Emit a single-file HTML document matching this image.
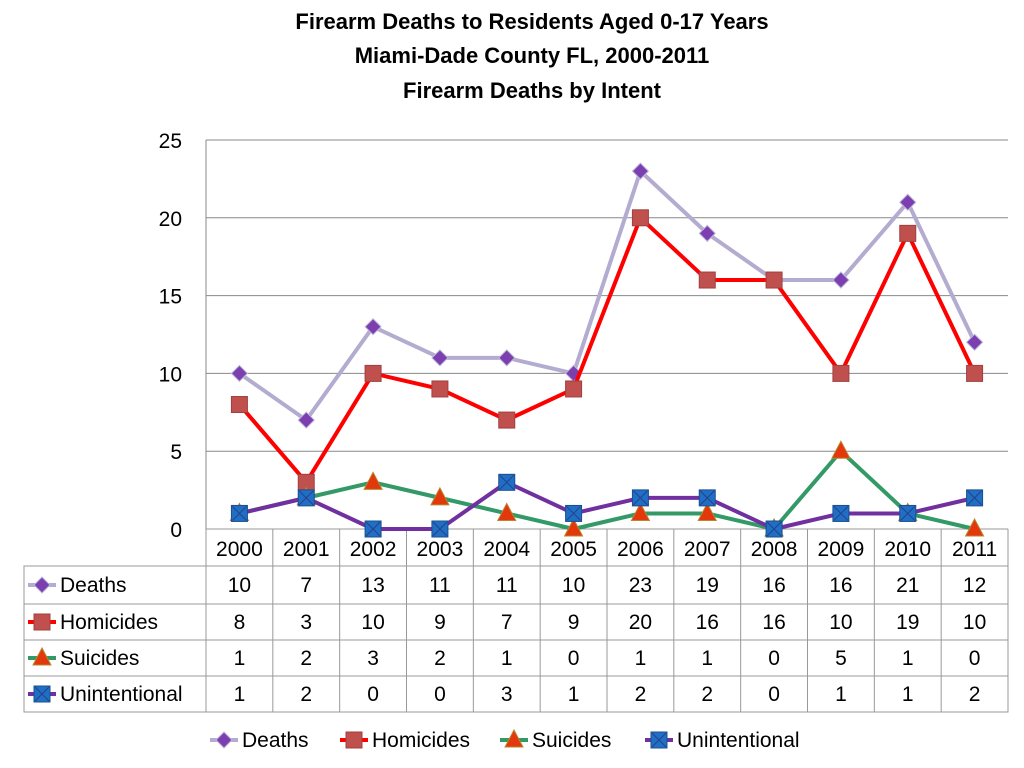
<!DOCTYPE html>
<html><head><meta charset="utf-8"><style>
body{margin:0;background:#fff;}
svg{display:block;font-family:"Liberation Sans",Calibri,sans-serif;}
</style></head><body>
<svg id="c" width="1024" height="768" xmlns="http://www.w3.org/2000/svg">
<g font-weight="bold" font-size="22" text-anchor="middle" fill="#000">
<text x="532" y="29">Firearm Deaths to Residents Aged 0-17 Years</text>
<text x="532" y="63">Miami-Dade County FL, 2000-2011</text>
<text x="532" y="98">Firearm Deaths by Intent</text>
</g>
<g id="grid"></g>
<g id="yt"></g>
<g id="table"></g>
<g id="series"></g>
<g id="legend"></g>
</svg>
<script>
const categories=["2000","2001","2002","2003","2004","2005","2006","2007","2008","2009","2010","2011"];
const deaths=[10,7,13,11,11,10,23,19,16,16,21,12];
const homicides=[8,3,10,9,7,9,20,16,16,10,19,10];
const suicides=[1,2,3,2,1,0,1,1,0,5,1,0];
const unintentional=[1,2,0,0,3,1,2,2,0,1,1,2];
const yTicks=[0,5,10,15,20,25];
const seriesNames=["Deaths","Homicides","Suicides","Unintentional"];

const NS="http://www.w3.org/2000/svg";
const L=206,R=1008,T=140,B=529,yMax=25;
const cw=(R-L)/categories.length;
const x=i=>L+cw*(i+0.5);
const y=v=>B-(v/yMax)*(B-T);
function el(p,tag,a){const e=document.createElementNS(NS,tag);for(const k in a)e.setAttribute(k,a[k]);p.appendChild(e);return e;}
const grid=document.getElementById('grid'),yt=document.getElementById('yt');
yTicks.forEach(t=>{
 const l=el(grid,'line',{x1:L,x2:R,y1:y(t),y2:y(t),stroke:'#888','stroke-width':1});
 
 
 const tx=el(yt,'text',{x:182,y:y(t)+8,'font-size':21,'text-anchor':'end'});tx.textContent=t;
 
 
});
el(grid,'line',{x1:L,x2:L,y1:T,y2:B,stroke:'#888'});
const tb=document.getElementById('table');
const rows=[deaths,homicides,suicides,unintentional];
const rowTop=[566,604,640,676],rowH=[38,36,36,36],tBottom=712;
el(tb,'rect',{x:24,y:566,width:R-24,height:tBottom-566,fill:'none',stroke:'#999'});
el(tb,'line',{x1:R,x2:R,y1:529,y2:tBottom,stroke:'#999'});
el(tb,'line',{x1:L,x2:R,y1:529,y2:529,stroke:'#999'});
for(let i=0;i<=categories.length;i++)el(tb,'line',{x1:L+cw*i,x2:L+cw*i,y1:529,y2:tBottom,stroke:'#999'});
rowTop.forEach(r=>el(tb,'line',{x1:24,x2:R,y1:r,y2:r,stroke:'#999'}));
categories.forEach((c,i)=>{const t=el(tb,'text',{x:x(i),y:556,'font-size':21,'text-anchor':'middle'});t.textContent=c;
 
 });
rows.forEach((arr,r)=>{
 const cy=rowTop[r]+rowH[r]/2+7;
 arr.forEach((v,i)=>{const t=el(tb,'text',{x:x(i),y:cy,'font-size':21,'text-anchor':'middle'});t.textContent=v;
  
  });
});
const styles=[
 {line:'#b4acd0',mk:'diamond',fill:'#7b3fb0',stroke:'#c0b8dc'},
 {line:'#ff0000',mk:'square',fill:'#c0504d',stroke:'#a04040'},
 {line:'#339966',mk:'tri',fill:'#e2380c',stroke:'#b8862f'},
 {line:'#7030a0',mk:'xsq',fill:'#1f6fc5',stroke:'#1a4f90'}];
function marker(g,t,cx,cy,s){
 if(s.mk==='diamond')return el(g,'polygon',{points:`${cx},${cy-8} ${cx+8},${cy} ${cx},${cy+8} ${cx-8},${cy}`,fill:s.fill,stroke:s.stroke});
 if(s.mk==='square')return el(g,'rect',{x:cx-8,y:cy-8,width:16,height:16,fill:s.fill,stroke:s.stroke});
 if(s.mk==='tri')return el(g,'polygon',{points:`${cx},${cy-10} ${cx+9},${cy+7} ${cx-9},${cy+7}`,fill:s.fill,stroke:s.stroke});
 const r=el(g,'rect',{x:cx-8,y:cy-8,width:16,height:16,fill:s.fill,stroke:s.stroke});
 el(g,'path',{d:`M${cx-7} ${cy-7}L${cx+7} ${cy+7}M${cx+7} ${cy-7}L${cx-7} ${cy+7}`,stroke:'#2a3f8a','stroke-width':1});
 return r;
}
const sg=document.getElementById('series');
const lg=document.getElementById('legend');
const legX=[210,340,500,645];
rows.forEach((arr,r)=>{
 const s=styles[r];
 const g=el(sg,'g',{});
 
 
 const p=el(g,'polyline',{points:arr.map((v,i)=>x(i)+','+y(v)).join(' '),fill:'none',stroke:s.line,'stroke-width':4,'stroke-linejoin':'round'});
 
 
 arr.forEach((v,i)=>{const m=marker(g,0,x(i),y(v),s);
  
  });
 const cy=rowTop[r]+rowH[r]/2;
 const hk=el(tb,'g',{});
 
 
 el(hk,'line',{x1:28,x2:56,y1:cy,y2:cy,stroke:s.line,'stroke-width':4});
 marker(hk,0,42,cy,s);
 const ht=el(hk,'text',{x:60,y:cy+7,'font-size':21});ht.textContent=seriesNames[r];
 const le=el(lg,'g',{});
 
 
 const lx=legX[r],ly=740;
 el(le,'line',{x1:lx,x2:lx+28,y1:ly,y2:ly,stroke:s.line,'stroke-width':4});
 marker(le,0,lx+14,ly,s);
 const lt=el(le,'text',{x:lx+32,y:ly+7,'font-size':21});lt.textContent=seriesNames[r];
});
</script>
</body></html>
